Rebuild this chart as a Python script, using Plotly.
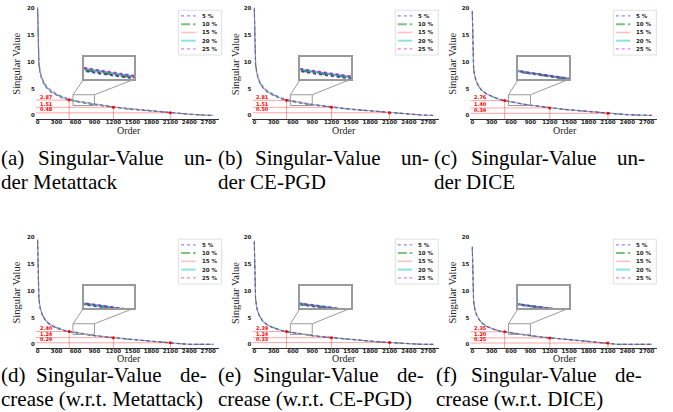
import plotly.graph_objects as go

W, H = 673, 412

# ---------------- data ----------------
ORDER = [0, 4, 10, 20, 40, 70, 110, 160, 230, 320, 420, 500, 600, 700, 800, 900,
         1050, 1200, 1400, 1600, 1800, 2000, 2100, 2250, 2400, 2600, 2780]

LEVELS = ["5 %", "10 %", "15 %", "20 %", "25 %"]

# (a) under Metattack
A_5 = [19.6, 15.0, 11.6, 9.4, 7.7, 6.5, 5.55, 4.80, 4.15, 3.57, 3.08, 2.80, 2.53, 2.31, 2.12, 1.95, 1.71, 1.47, 1.22, 0.99, 0.79, 0.58, 0.47, 0.33, 0.19, 0.07, 0.0]
A_10 = [19.8, 15.2, 11.8, 9.6, 7.85, 6.65, 5.68, 4.90, 4.25, 3.66, 3.16, 2.87, 2.61, 2.39, 2.19, 2.02, 1.76, 1.51, 1.25, 1.02, 0.81, 0.59, 0.48, 0.34, 0.20, 0.07, 0.0]
A_15 = [19.9, 15.4, 12.0, 9.8, 8.0, 6.78, 5.80, 5.00, 4.34, 3.74, 3.24, 2.94, 2.68, 2.45, 2.25, 2.07, 1.81, 1.56, 1.29, 1.05, 0.84, 0.62, 0.51, 0.36, 0.21, 0.08, 0.0]
A_20 = [20.0, 15.6, 12.2, 9.95, 8.15, 6.90, 5.92, 5.10, 4.43, 3.82, 3.31, 3.01, 2.74, 2.51, 2.31, 2.12, 1.85, 1.60, 1.32, 1.08, 0.86, 0.64, 0.53, 0.38, 0.22, 0.08, 0.0]
A_25 = [20.2, 15.8, 12.4, 10.1, 8.3, 7.02, 6.03, 5.20, 4.52, 3.90, 3.38, 3.08, 2.81, 2.58, 2.37, 2.18, 1.90, 1.64, 1.36, 1.11, 0.88, 0.66, 0.55, 0.39, 0.23, 0.09, 0.0]

# (b) under CE-PGD
B_5 = [19.7, 15.0, 11.5, 9.3, 7.6, 6.4, 5.45, 4.72, 4.08, 3.52, 3.03, 2.75, 2.50, 2.29, 2.10, 1.94, 1.71, 1.48, 1.23, 1.01, 0.81, 0.61, 0.48, 0.35, 0.20, 0.07, 0.0]
B_10 = [19.8, 15.1, 11.6, 9.4, 7.7, 6.5, 5.53, 4.79, 4.15, 3.58, 3.09, 2.81, 2.56, 2.35, 2.16, 1.99, 1.75, 1.51, 1.26, 1.04, 0.83, 0.62, 0.50, 0.36, 0.21, 0.07, 0.0]
B_15 = [19.9, 15.3, 11.8, 9.55, 7.82, 6.6, 5.62, 4.87, 4.22, 3.64, 3.15, 2.87, 2.61, 2.40, 2.21, 2.03, 1.79, 1.54, 1.29, 1.06, 0.85, 0.64, 0.52, 0.37, 0.22, 0.08, 0.0]
B_20 = [20.0, 15.4, 11.9, 9.65, 7.92, 6.7, 5.71, 4.95, 4.29, 3.71, 3.21, 2.92, 2.66, 2.45, 2.25, 2.07, 1.82, 1.57, 1.31, 1.08, 0.86, 0.65, 0.53, 0.38, 0.22, 0.08, 0.0]
B_25 = [20.1, 15.6, 12.1, 9.8, 8.05, 6.8, 5.80, 5.03, 4.37, 3.78, 3.27, 2.98, 2.72, 2.50, 2.30, 2.12, 1.86, 1.60, 1.34, 1.10, 0.88, 0.66, 0.54, 0.39, 0.23, 0.08, 0.0]

# (c) under DICE
C_5 = [19.3, 14.5, 10.9, 8.75, 7.15, 6.05, 5.17, 4.47, 3.90, 3.38, 2.95, 2.74, 2.47, 2.25, 2.05, 1.88, 1.62, 1.39, 1.14, 0.92, 0.71, 0.49, 0.38, 0.25, 0.13, 0.04, 0.0]
C_10 = [19.35, 14.55, 10.95, 8.78, 7.18, 6.08, 5.19, 4.49, 3.91, 3.39, 2.96, 2.76, 2.48, 2.26, 2.06, 1.89, 1.63, 1.40, 1.15, 0.93, 0.72, 0.50, 0.39, 0.26, 0.14, 0.04, 0.0]
C_15 = [19.4, 14.6, 11.0, 8.8, 7.2, 6.1, 5.21, 4.51, 3.93, 3.41, 2.98, 2.77, 2.50, 2.28, 2.08, 1.90, 1.64, 1.41, 1.16, 0.94, 0.73, 0.51, 0.40, 0.26, 0.14, 0.04, 0.0]
C_20 = [19.45, 14.65, 11.05, 8.83, 7.22, 6.12, 5.23, 4.53, 3.95, 3.43, 2.99, 2.78, 2.51, 2.29, 2.09, 1.91, 1.65, 1.42, 1.17, 0.95, 0.74, 0.52, 0.40, 0.27, 0.15, 0.05, 0.0]
C_25 = [19.5, 14.7, 11.1, 8.86, 7.25, 6.15, 5.25, 4.55, 3.97, 3.45, 3.01, 2.80, 2.52, 2.30, 2.10, 1.92, 1.66, 1.43, 1.18, 0.96, 0.75, 0.53, 0.41, 0.27, 0.15, 0.05, 0.0]

# (d) decrease w.r.t. Metattack
D_5 = [19.3, 14.2, 10.6, 8.4, 6.7, 5.55, 4.65, 3.95, 3.38, 2.90, 2.52, 2.33, 2.11, 1.91, 1.73, 1.57, 1.37, 1.19, 0.96, 0.76, 0.56, 0.36, 0.27, 0.05, 0.0, 0.0, 0.0]
D_10 = [19.4, 14.3, 10.7, 8.5, 6.8, 5.62, 4.72, 4.01, 3.44, 2.96, 2.58, 2.38, 2.16, 1.96, 1.78, 1.62, 1.41, 1.23, 0.99, 0.79, 0.58, 0.38, 0.28, 0.06, 0.0, 0.0, 0.0]
D_15 = [19.5, 14.4, 10.8, 8.6, 6.85, 5.67, 4.77, 4.05, 3.47, 2.99, 2.60, 2.40, 2.18, 1.98, 1.80, 1.64, 1.42, 1.24, 1.00, 0.80, 0.59, 0.39, 0.29, 0.07, 0.0, 0.0, 0.0]
D_20 = [19.55, 14.5, 10.9, 8.65, 6.9, 5.72, 4.81, 4.09, 3.51, 3.02, 2.63, 2.43, 2.21, 2.00, 1.82, 1.66, 1.44, 1.26, 1.02, 0.81, 0.60, 0.40, 0.30, 0.08, 0.0, 0.0, 0.0]
D_25 = [19.6, 14.6, 11.0, 8.7, 6.95, 5.77, 4.86, 4.13, 3.55, 3.06, 2.66, 2.46, 2.24, 2.03, 1.85, 1.68, 1.46, 1.28, 1.04, 0.83, 0.61, 0.41, 0.31, 0.09, 0.0, 0.0, 0.0]

# (e) decrease w.r.t. CE-PGD
E_5 = [19.1, 14.1, 10.5, 8.3, 6.65, 5.5, 4.62, 3.93, 3.36, 2.89, 2.52, 2.33, 2.11, 1.92, 1.74, 1.58, 1.38, 1.20, 0.97, 0.77, 0.57, 0.39, 0.31, 0.16, 0.02, 0.0, 0.0]
E_10 = [19.2, 14.2, 10.6, 8.4, 6.72, 5.56, 4.67, 3.98, 3.40, 2.93, 2.56, 2.37, 2.15, 1.95, 1.77, 1.61, 1.41, 1.22, 0.99, 0.79, 0.59, 0.40, 0.32, 0.17, 0.02, 0.0, 0.0]
E_15 = [19.3, 14.3, 10.7, 8.45, 6.76, 5.6, 4.70, 4.00, 3.42, 2.95, 2.58, 2.39, 2.17, 1.97, 1.79, 1.63, 1.43, 1.24, 1.01, 0.80, 0.60, 0.41, 0.33, 0.18, 0.03, 0.0, 0.0]
E_20 = [19.35, 14.4, 10.8, 8.5, 6.8, 5.64, 4.73, 4.03, 3.45, 2.98, 2.60, 2.41, 2.19, 1.99, 1.81, 1.65, 1.44, 1.25, 1.02, 0.81, 0.61, 0.42, 0.34, 0.18, 0.03, 0.0, 0.0]
E_25 = [19.4, 14.5, 10.9, 8.55, 6.85, 5.68, 4.77, 4.06, 3.48, 3.01, 2.63, 2.43, 2.21, 2.01, 1.83, 1.67, 1.46, 1.27, 1.04, 0.83, 0.62, 0.43, 0.35, 0.19, 0.04, 0.0, 0.0]

# (f) decrease w.r.t. DICE
F_5 = [18.1, 13.55, 10.15, 8.07, 6.48, 5.38, 4.53, 3.86, 3.30, 2.84, 2.48, 2.34, 2.11, 1.91, 1.73, 1.57, 1.37, 1.19, 0.96, 0.76, 0.55, 0.34, 0.24, 0.0, 0.0, 0.0, 0.0]
F_10 = [18.15, 13.58, 10.18, 8.09, 6.49, 5.39, 4.54, 3.86, 3.30, 2.85, 2.49, 2.35, 2.12, 1.92, 1.74, 1.58, 1.38, 1.20, 0.97, 0.77, 0.56, 0.35, 0.25, 0.0, 0.0, 0.0, 0.0]
F_15 = [18.2, 13.6, 10.2, 8.1, 6.5, 5.4, 4.55, 3.87, 3.31, 2.85, 2.49, 2.35, 2.12, 1.92, 1.74, 1.58, 1.38, 1.20, 0.97, 0.77, 0.56, 0.35, 0.25, 0.0, 0.0, 0.0, 0.0]
F_20 = [18.25, 13.62, 10.22, 8.11, 6.51, 5.41, 4.56, 3.88, 3.32, 2.86, 2.50, 2.36, 2.13, 1.93, 1.75, 1.59, 1.39, 1.21, 0.98, 0.78, 0.57, 0.36, 0.26, 0.0, 0.0, 0.0, 0.0]
F_25 = [18.3, 13.65, 10.25, 8.13, 6.52, 5.42, 4.57, 3.89, 3.33, 2.87, 2.51, 2.37, 2.14, 1.94, 1.76, 1.60, 1.40, 1.22, 0.99, 0.79, 0.58, 0.37, 0.27, 0.0, 0.0, 0.0, 0.0]

MARK_ORDERS = [500, 1200, 2100]
A_MARKS = [2.87, 1.51, 0.48]
B_MARKS = [2.81, 1.51, 0.50]
C_MARKS = [2.76, 1.40, 0.39]
D_MARKS = [2.40, 1.24, 0.29]
E_MARKS = [2.39, 1.24, 0.33]
F_MARKS = [2.35, 1.20, 0.25]

X_TICKS = [0, 300, 600, 900, 1200, 1500, 1800, 2100, 2400, 2700]
Y_TICKS = [0, 5, 10, 15, 20]

CAP_LETTERS = ["(a)", "(b)", "(c)", "(d)", "(e)", "(f)"]
CAP_WORD = "Singular-Value"
CAP_END = ["un-", "un-", "un-", "de-", "de-", "de-"]
CAP_LINE2 = ["der Metattack", "der CE-PGD", "der DICE",
             "crease (w.r.t. Metattack)", "crease (w.r.t. CE-PGD)", "crease (w.r.t. DICE)"]

PANELS = [
    ([A_5, A_10, A_15, A_20, A_25], A_MARKS),
    ([B_5, B_10, B_15, B_20, B_25], B_MARKS),
    ([C_5, C_10, C_15, C_20, C_25], C_MARKS),
    ([D_5, D_10, D_15, D_20, D_25], D_MARKS),
    ([E_5, E_10, E_15, E_20, E_25], E_MARKS),
    ([F_5, F_10, F_15, F_20, F_25], F_MARKS),
]

# ---------------- style / layout ----------------
COLORS = ["rgba(40,40,255,0.55)", "rgba(0,128,0,0.5)", "rgba(255,0,0,0.25)",
          "rgba(0,191,191,0.45)", "rgba(191,0,191,0.5)"]
INSET_COLORS = ["rgba(0,0,255,0.75)", "rgba(0,128,0,0.75)", "rgba(255,0,0,0.35)",
                "rgba(0,191,191,0.75)", "rgba(191,0,191,0.75)"]
DASHES = ["dot", "dashdot", "solid", "solid", "dot"]
MAIN_WIDTHS = [1.1, 1.0, 1.2, 1.2, 1.1]
LEG_WIDTHS = [1.3, 2.0, 1.6, 2.0, 1.3]

XR = [-30, 2865]
YR = [-0.75, 20.2]
COLS = [(37.6, 0.0632), (254.3, 0.0644), (472.3, 0.0646)]   # pixel of x=0, px per unit
ROWS = [(114.0, 5.4), (344.0, 5.37)]                          # pixel of y=0, px per unit
INSET_X = (46.0, 96.5)
INSET_Y = [(55.7, 77.7), (285.7, 307.7)]
SRC_X = [560, 900]
SRC_Y = [1.85, 3.85]

TICK_FONT = dict(family="DejaVu Sans", size=5.5, color="#222", weight="bold")
SERIF = "Liberation Serif"

fig = go.Figure()
shapes = []
annos = []


def px(x):
    return x / W


def py(y):
    return 1 - y / H


for p, (series, marks) in enumerate(PANELS):
    row, col = divmod(p, 3)
    x0, xs = COLS[col]
    y0, ys = ROWS[row]
    k = p + 1
    ki = p + 7
    xa, ya = f"x{k}", f"y{k}"
    xai, yai = f"x{ki}", f"y{ki}"

    dom_x = [px(x0 + XR[0] * xs), px(x0 + XR[1] * xs)]
    dom_y = [py(y0 - YR[0] * ys), py(y0 - YR[1] * ys)]
    fig.layout[f"xaxis{k}"] = dict(domain=dom_x, range=XR, anchor=ya, tickvals=X_TICKS,
                                   tickfont=TICK_FONT, showline=True, linecolor="#333",
                                   linewidth=0.9, showgrid=False, zeroline=False, ticks="",
                                   ticklabelstandoff=-3, fixedrange=True)
    fig.layout[f"yaxis{k}"] = dict(domain=dom_y, range=YR, anchor=xa, tickvals=Y_TICKS,
                                   tickfont=TICK_FONT, showline=False, showgrid=False,
                                   zeroline=False, ticks="", fixedrange=True)

    # inset axes
    ix0, ix1 = x0 + INSET_X[0], x0 + INSET_X[1]
    iy0, iy1 = INSET_Y[row]
    fig.layout[f"xaxis{ki}"] = dict(domain=[px(ix0), px(ix1)], range=SRC_X, anchor=yai,
                                    showticklabels=False, showline=True, mirror=True,
                                    linecolor="#9a9a9a", linewidth=1.5, showgrid=False,
                                    zeroline=False, ticks="")
    fig.layout[f"yaxis{ki}"] = dict(domain=[py(iy1), py(iy0)], range=SRC_Y, anchor=xai,
                                    showticklabels=False, showline=True, mirror=True,
                                    linecolor="#9a9a9a", linewidth=1.5, showgrid=False,
                                    zeroline=False, ticks="")

    for s, vals in enumerate(series):
        fig.add_trace(go.Scatter(x=ORDER, y=vals, mode="lines", name=LEVELS[s],
                                 line=dict(color=COLORS[s], width=MAIN_WIDTHS[s], dash=DASHES[s]),
                                 xaxis=xa, yaxis=ya, showlegend=False, hoverinfo="skip"))
    for s, vals in enumerate(series):
        fig.add_trace(go.Scatter(x=ORDER, y=vals, mode="lines", name=LEVELS[s],
                                 line=dict(color=INSET_COLORS[s], width=2, dash=DASHES[s]),
                                 xaxis=xai, yaxis=yai, showlegend=False, hoverinfo="skip"))

    # red markers and guide lines
    fig.add_trace(go.Scatter(x=MARK_ORDERS, y=marks, mode="markers",
                             marker=dict(color="red", size=3), xaxis=xa, yaxis=ya,
                             showlegend=False, hoverinfo="skip"))
    for mx, mv in zip(MARK_ORDERS, marks):
        shapes.append(dict(type="line", xref=xa, yref=ya, x0=XR[0], x1=mx, y0=mv, y1=mv,
                           line=dict(color="rgba(255,0,0,0.45)", width=0.8)))
        shapes.append(dict(type="line", xref=xa, yref=ya, x0=mx, x1=mx, y0=YR[0], y1=mv,
                           line=dict(color="rgba(255,0,0,0.45)", width=0.8)))
        annos.append(dict(xref=xa, yref=ya, x=0, y=mv, xanchor="left", yanchor="bottom",
                          text=f"{mv:.2f}", showarrow=False, yshift=-1.5,
                          font=dict(family="DejaVu Sans", size=5, color="red", weight="bold")))

    # source rectangle and connectors
    shapes.append(dict(type="rect", xref=xa, yref=ya, x0=SRC_X[0], x1=SRC_X[1],
                       y0=SRC_Y[0], y1=SRC_Y[1], line=dict(color="#9a9a9a", width=1)))
    sx0 = x0 + SRC_X[0] * xs
    sx1 = x0 + SRC_X[1] * xs
    sy1 = y0 - SRC_Y[1] * ys
    shapes.append(dict(type="line", xref="paper", yref="paper", x0=px(sx0), y0=py(sy1),
                       x1=px(ix0), y1=py(iy1), line=dict(color="#9a9a9a", width=1)))
    shapes.append(dict(type="line", xref="paper", yref="paper", x0=px(sx1), y0=py(sy1),
                       x1=px(ix1), y1=py(iy1), line=dict(color="#9a9a9a", width=1)))

    # legend box
    lx0 = x0 + 141
    lx1 = x0 + 184
    ly0 = 8.3 + (y0 - 114.0)
    ly1 = ly0 + 45
    shapes.append(dict(type="rect", xref="paper", yref="paper", x0=px(lx0), x1=px(lx1),
                       y0=py(ly1), y1=py(ly0), line=dict(color="#d8d8d8", width=0.8),
                       fillcolor="rgba(255,255,255,0.85)"))
    for s in range(5):
        ry = ly0 + 5.7 + s * 8.3
        shapes.append(dict(type="line", xref="paper", yref="paper", x0=px(lx0 + 2.5),
                           x1=px(lx0 + 17), y0=py(ry), y1=py(ry),
                           line=dict(color=COLORS[s], width=LEG_WIDTHS[s], dash=DASHES[s])))
        annos.append(dict(xref="paper", yref="paper", x=px(lx0 + 21), y=py(ry),
                          xanchor="left", yanchor="middle", text=LEVELS[s], showarrow=False,
                          font=dict(family="DejaVu Sans", size=5.5, color="#222",
                                    weight="bold")))

    # axis titles
    ycx = [17, 235.5, 453][col]
    annos.append(dict(xref="paper", yref="paper", x=px(ycx), y=py(62 + row * 230),
                      text="Singular Value", textangle=-90, showarrow=False,
                      xanchor="center", yanchor="middle",
                      font=dict(family=SERIF, size=10.5, color="#222")))
    annos.append(dict(xref="paper", yref="paper", x=px([129, 344, 565][col]),
                      y=py(129.5 + row * 228.5), text="Order", showarrow=False,
                      xanchor="center", yanchor="middle", borderpad=0,
                      font=dict(family=SERIF, size=10, color="#222")))

    # captions
    cap_font = dict(family=SERIF, size=21, color="black")
    base = [0, 217, 433][col] + (2 if (row == 1 and col == 2) else 0)
    l1 = 157 + row * 218
    l2 = l1 + 24
    sv_off = 37 if row == 0 else 35
    end_off = 213 if row == 0 else 208
    annos.append(dict(xref="paper", yref="paper", x=px(base), y=py(l1), text=CAP_LETTERS[p],
                      xanchor="left", yanchor="middle", showarrow=False, font=cap_font,
                      borderpad=0))
    annos.append(dict(xref="paper", yref="paper", x=px(base + sv_off), y=py(l1), text=CAP_WORD,
                      xanchor="left", yanchor="middle", showarrow=False, font=cap_font,
                      borderpad=0))
    annos.append(dict(xref="paper", yref="paper", x=px(base + end_off), y=py(l1), text=CAP_END[p],
                      xanchor="right", yanchor="middle", showarrow=False, font=cap_font,
                      borderpad=0))
    annos.append(dict(xref="paper", yref="paper", x=px(base), y=py(l2), text=CAP_LINE2[p],
                      xanchor="left", yanchor="middle", showarrow=False, font=cap_font,
                      borderpad=0))

fig.update_layout(width=W, height=H, autosize=False, margin=dict(l=0, r=0, t=0, b=0, pad=0),
                  paper_bgcolor="white", plot_bgcolor="rgba(0,0,0,0)", showlegend=False,
                  shapes=shapes, annotations=annos)

fig.write_html("out.html", config=dict(displayModeBar=False),
               post_script="document.body.style.margin='0px';document.body.style.overflow='hidden';")
